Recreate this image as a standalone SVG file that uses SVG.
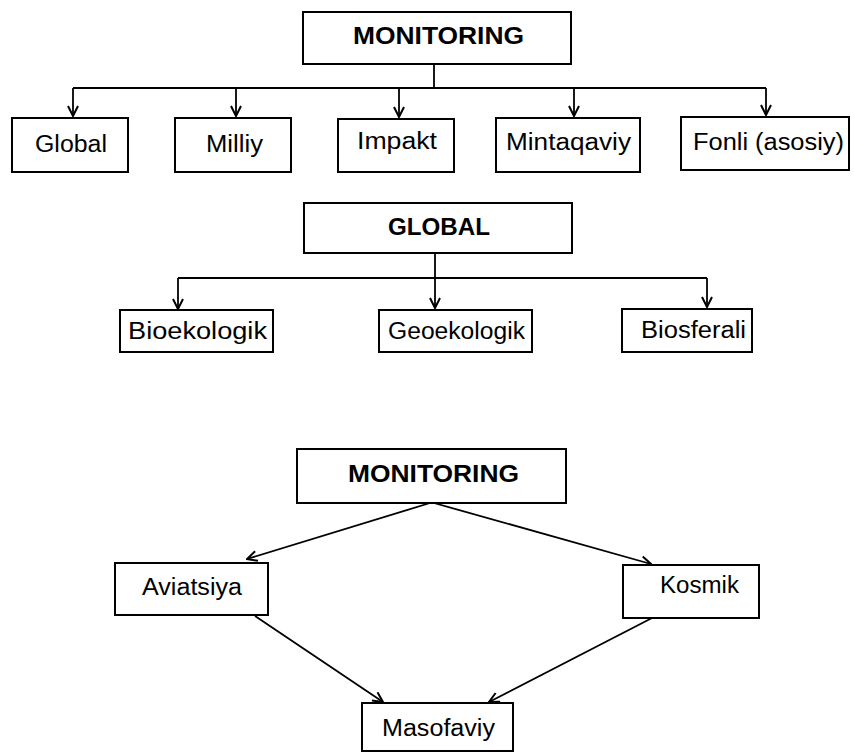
<svg xmlns="http://www.w3.org/2000/svg" width="854" height="753" viewBox="0 0 854 753">
<style>
.box{fill:#fff;stroke:#000;stroke-width:2}
.t{font-family:"Liberation Sans",Arial,sans-serif;font-size:23px;fill:#000;text-anchor:start}
.b{font-family:"Liberation Sans",Arial,sans-serif;font-size:24px;font-weight:bold;fill:#000}
.ln{fill:none;stroke:#000;stroke-width:1.8}
</style>
<defs>
<marker id="ah" viewBox="0 0 12 12" refX="11" refY="6" markerWidth="12" markerHeight="12" markerUnits="userSpaceOnUse" orient="auto">
<path d="M1,1 L11,6 L1,11" fill="none" stroke="#000" stroke-width="2"/>
</marker>
</defs>
<rect width="854" height="753" fill="#fff"/>
<g id="connectors">
<path class="ln" d="M434,64 V88 M73,88 H766"/>
<path class="ln" d="M73,88 V116" marker-end="url(#ah)"/>
<path class="ln" d="M236,88 V116" marker-end="url(#ah)"/>
<path class="ln" d="M399,88 V117" marker-end="url(#ah)"/>
<path class="ln" d="M574,88 V116" marker-end="url(#ah)"/>
<path class="ln" d="M766,88 V115" marker-end="url(#ah)"/>
<path class="ln" d="M435,253 V278 M178,278 H707"/>
<path class="ln" d="M178,278 V309" marker-end="url(#ah)"/>
<path class="ln" d="M435,278 V308" marker-end="url(#ah)"/>
<path class="ln" d="M707,278 V307" marker-end="url(#ah)"/>
<path class="ln" d="M430,503 L247,559" marker-end="url(#ah)"/>
<path class="ln" d="M434,503 L651,564" marker-end="url(#ah)"/>
<path class="ln" d="M255,616 L383,702" marker-end="url(#ah)"/>
<path class="ln" d="M652,618 L489,702" marker-end="url(#ah)"/>
</g>
<g id="monitoring1">
<rect class="box" x="303" y="12" width="268" height="52"/>
<text class="b" x="353" y="44" textLength="171" lengthAdjust="spacingAndGlyphs">MONITORING</text>
</g>
<g id="global">
<rect class="box" x="12" y="118" width="116" height="54"/>
<text class="t" x="35" y="152" textLength="72" lengthAdjust="spacingAndGlyphs">Global</text>
</g>
<g id="milliy">
<rect class="box" x="175" y="118" width="116" height="54"/>
<text class="t" x="206" y="152" textLength="57" lengthAdjust="spacingAndGlyphs">Milliy</text>
</g>
<g id="impakt">
<rect class="box" x="338" y="119" width="116" height="53"/>
<text class="t" x="357" y="149" textLength="80" lengthAdjust="spacingAndGlyphs">Impakt</text>
</g>
<g id="mintaqaviy">
<rect class="box" x="496" y="118" width="144" height="54"/>
<text class="t" x="506" y="150" textLength="125" lengthAdjust="spacingAndGlyphs">Mintaqaviy</text>
</g>
<g id="fonli">
<rect class="box" x="681" y="117" width="168" height="53"/>
<text class="t" x="693" y="150" textLength="151" lengthAdjust="spacingAndGlyphs">Fonli (asosiy)</text>
</g>
<g id="global2">
<rect class="box" x="304" y="203" width="268" height="50"/>
<text class="b" x="388" y="235" textLength="102" lengthAdjust="spacingAndGlyphs">GLOBAL</text>
</g>
<g id="bioekologik">
<rect class="box" x="120" y="310" width="153" height="42"/>
<text class="t" x="128" y="339" textLength="139" lengthAdjust="spacingAndGlyphs">Bioekologik</text>
</g>
<g id="geoekologik">
<rect class="box" x="379" y="310" width="153" height="42"/>
<text class="t" x="388" y="339" textLength="137" lengthAdjust="spacingAndGlyphs">Geoekologik</text>
</g>
<g id="biosferali">
<rect class="box" x="622" y="309" width="130" height="43"/>
<text class="t" x="641" y="338" textLength="105" lengthAdjust="spacingAndGlyphs">Biosferali</text>
</g>
<g id="monitoring2">
<rect class="box" x="297" y="449" width="269" height="54"/>
<text class="b" x="348" y="482" textLength="171" lengthAdjust="spacingAndGlyphs">MONITORING</text>
</g>
<g id="aviatsiya">
<rect class="box" x="115" y="563" width="153" height="52"/>
<text class="t" x="142" y="595" textLength="100" lengthAdjust="spacingAndGlyphs">Aviatsiya</text>
</g>
<g id="kosmik">
<rect class="box" x="623" y="565" width="136" height="53"/>
<text class="t" x="660" y="593" textLength="79" lengthAdjust="spacingAndGlyphs">Kosmik</text>
</g>
<g id="masofaviy">
<rect class="box" x="362" y="703" width="151" height="48"/>
<text class="t" x="382" y="736" textLength="113" lengthAdjust="spacingAndGlyphs">Masofaviy</text>
</g>
</svg>
